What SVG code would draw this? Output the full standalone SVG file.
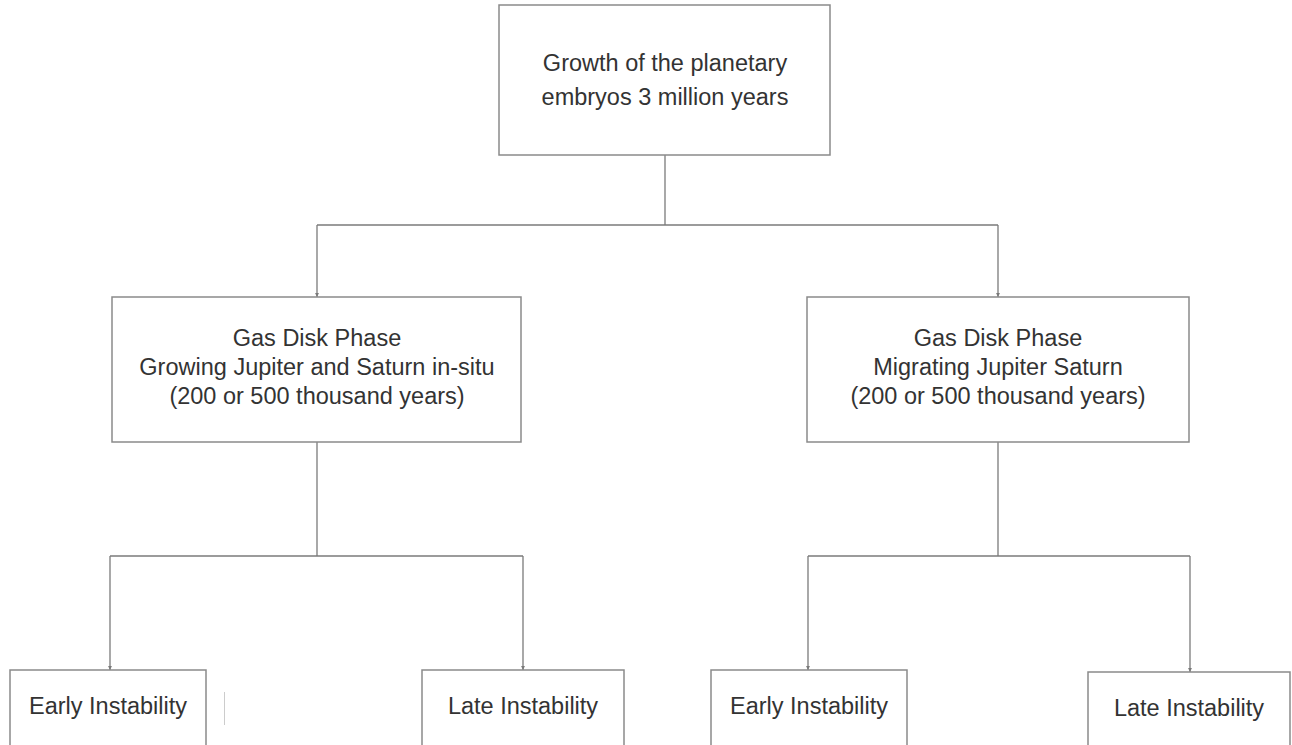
<svg xmlns="http://www.w3.org/2000/svg" width="1292" height="745" viewBox="0 0 1292 745">
<style>
.box{fill:#fff;stroke:#8a8a8a;stroke-width:1.5}
.lbl{font-family:"Liberation Sans",Arial,sans-serif;font-size:23.5px;fill:#333;text-anchor:middle}
.con{fill:none;stroke:#7a7a7a;stroke-width:1.3}
</style>
<defs>
<marker id="ah" viewBox="0 0 6 6" refX="6" refY="3" markerWidth="3" markerHeight="3" orient="auto"><path d="M0,0 L6,3 L0,6 Z" fill="#7a7a7a"/></marker>
</defs>
<rect width="1292" height="745" fill="#fff"/>
<g id="connectors">
<path class="con" d="M665,155 V225"/>
<path class="con" d="M317,225 H998"/>
<path class="con" d="M317,225 V297" marker-end="url(#ah)"/>
<path class="con" d="M998,225 V297" marker-end="url(#ah)"/>
<path class="con" d="M317,442 V556"/>
<path class="con" d="M110,556 H523"/>
<path class="con" d="M110,556 V670" marker-end="url(#ah)"/>
<path class="con" d="M523,556 V670" marker-end="url(#ah)"/>
<path class="con" d="M998,442 V556"/>
<path class="con" d="M808,556 H1190"/>
<path class="con" d="M808,556 V670" marker-end="url(#ah)"/>
<path class="con" d="M1190,556 V672" marker-end="url(#ah)"/>
</g>
<line x1="224.5" y1="692" x2="224.5" y2="725" stroke="#ccc" stroke-width="1"/>
<g id="n-growth">
<rect class="box" x="499" y="5" width="331" height="150"/>
<text class="lbl" x="665" y="71">Growth of the planetary</text>
<text class="lbl" x="665" y="105">embryos 3 million years</text>
</g>
<g id="n-insitu">
<rect class="box" x="112" y="297" width="409" height="145"/>
<text class="lbl" x="317" y="346">Gas Disk Phase</text>
<text class="lbl" x="317" y="375">Growing Jupiter and Saturn in-situ</text>
<text class="lbl" x="317" y="404">(200 or 500 thousand years)</text>
</g>
<g id="n-migrating">
<rect class="box" x="807" y="297" width="382" height="145"/>
<text class="lbl" x="998" y="346">Gas Disk Phase</text>
<text class="lbl" x="998" y="375">Migrating Jupiter Saturn</text>
<text class="lbl" x="998" y="404">(200 or 500 thousand years)</text>
</g>
<g id="n-early1">
<rect class="box" x="10" y="670" width="196" height="90"/>
<text class="lbl" x="108" y="714">Early Instability</text>
</g>
<g id="n-late1">
<rect class="box" x="422" y="670" width="202" height="90"/>
<text class="lbl" x="523" y="714">Late Instability</text>
</g>
<g id="n-early2">
<rect class="box" x="711" y="670" width="196" height="90"/>
<text class="lbl" x="809" y="714">Early Instability</text>
</g>
<g id="n-late2">
<rect class="box" x="1088" y="672" width="202" height="90"/>
<text class="lbl" x="1189" y="716">Late Instability</text>
</g>
</svg>
